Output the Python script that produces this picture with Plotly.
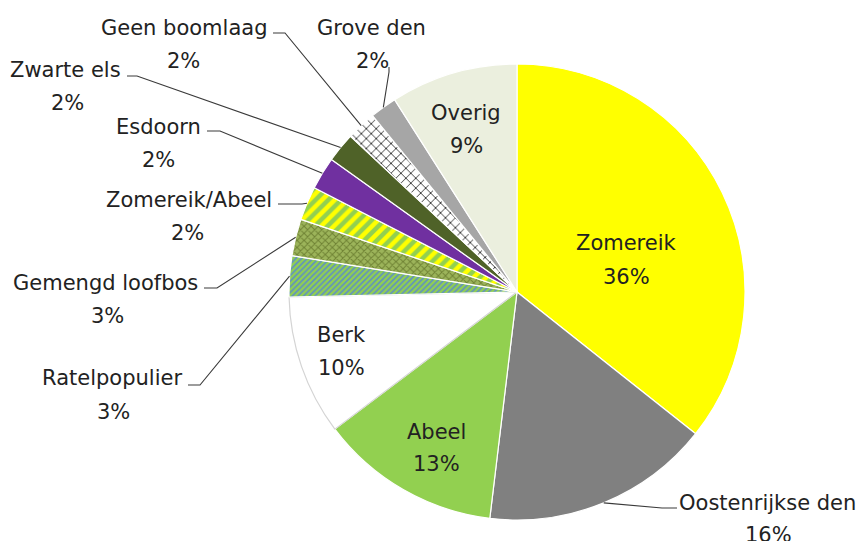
import math
import plotly.graph_objects as go

# ---- data ----
categories = ["Zomereik", "Oostenrijkse den", "Abeel", "Berk", "Ratelpopulier",
              "Gemengd loofbos", "Zomereik/Abeel", "Esdoorn", "Zwarte els",
              "Geen boomlaag", "Grove den", "Overig"]
values = [35.6, 16.2, 12.8, 9.9, 2.9, 2.6, 2.4, 2.3, 2.1, 2.1, 1.9, 9.0]

# ---- styles ----
colors = ["#FFFF00", "#808080", "#92D050", "#FFFFFF", "#92D050",
          "#9CB45A", "#92D050", "#7030A0", "#4F6228",
          "#FFFFFF", "#A6A6A6", "#EBEFDE"]
pat_shape = ["", "", "", "", "/", "x", "/", "", "", "x", "", ""]
pat_fg = ["#000", "#000", "#000", "#000", "#5E8FC4", "#6F8234", "#FFFF00",
          "#000", "#000", "#000000", "#000", "#000"]
pat_size = [8, 8, 8, 8, 4, 5, 9, 8, 8, 7, 8, 8]
pat_sol = [0.3, 0.3, 0.3, 0.3, 0.4, 0.35, 0.5, 0.3, 0.3, 0.2, 0.3, 0.3]
line_colors = ["#FFFFFF"] * len(categories)
line_colors[3] = "#D4D4D4"

W, H = 859, 541
CX, CY, R = 517, 292, 228
FONT = "DejaVu Sans"
FS = 21
TXT = "#222222"

# label layout (pixel positions): name centre, pct centre, leader start, leader elbow
label_layout = {
    "Zomereik": ((626, 243), (626, 277), None, None),
    "Oostenrijkse den": ((767, 503), (768, 535), (677, 508), (662, 508)),
    "Abeel": ((436, 432), (436, 464), None, None),
    "Berk": ((341, 335), (341, 368), None, None),
    "Ratelpopulier": ((112, 378), (113, 412), (188, 385), (200, 385)),
    "Gemengd loofbos": ((105, 283), (107, 316), (204, 288), (217, 288)),
    "Zomereik/Abeel": ((189, 200), (187, 233), (278, 204), (302, 204)),
    "Esdoorn": ((158, 127), (158, 160), (207, 131), (220, 131)),
    "Zwarte els": ((65, 70), (67, 103), (127, 76), (137, 76)),
    "Geen boomlaag": ((184, 28), (183, 61), (273, 33), (285, 33)),
    "Grove den": ((371, 28), (372, 61), (389, 67), (389, 72)),
    "Overig": ((466, 113), (466, 146), None, None),
}

def px(x):
    return x / W

def py(y):
    return 1 - y / H

fig = go.Figure(go.Pie(
    labels=categories, values=values, sort=False, direction="clockwise",
    rotation=0, textinfo="none", hoverinfo="label+percent",
    marker=dict(colors=colors, line=dict(color=line_colors, width=1.2),
                pattern=dict(shape=pat_shape, fgcolor=pat_fg, bgcolor=colors,
                             size=pat_size, solidity=pat_sol, fillmode="replace")),
    domain=dict(x=[px(CX - R), px(CX + R)], y=[py(CY + R), py(CY - R)]),
    showlegend=False,
))

total = sum(values)
annotations = []
shapes = []
cum = 0.0
for cat, v in zip(categories, values):
    mid = (cum + v / 2) / total * 2 * math.pi
    cum += v
    (nx, ny), (qx, qy), start, elbow = label_layout[cat]
    pct = f"{round(v / total * 100)}%"
    for (tx, ty), t in (((nx, ny), cat), ((qx, qy), pct)):
        annotations.append(dict(x=px(tx), y=py(ty), xref="paper", yref="paper",
                                text=t, showarrow=False, xanchor="center",
                                yanchor="middle",
                                font=dict(family=FONT, size=FS, color=TXT)))
    if start is not None:
        ex = CX + R * math.sin(mid)
        ey = CY - R * math.cos(mid)
        path = (f"M {px(start[0])},{py(start[1])} L {px(elbow[0])},{py(elbow[1])} "
                f"L {px(ex)},{py(ey)}")
        shapes.append(dict(type="path", path=path, xref="paper", yref="paper",
                           line=dict(color="#3A3A3A", width=1.1)))

fig.update_layout(width=W, height=H, margin=dict(l=0, r=0, t=0, b=0),
                  paper_bgcolor="white", plot_bgcolor="white",
                  annotations=annotations, shapes=shapes)
fig.write_html("out.html", config={"displayModeBar": False},
               post_script="document.body.style.margin='0px';document.body.style.overflow='hidden';")
